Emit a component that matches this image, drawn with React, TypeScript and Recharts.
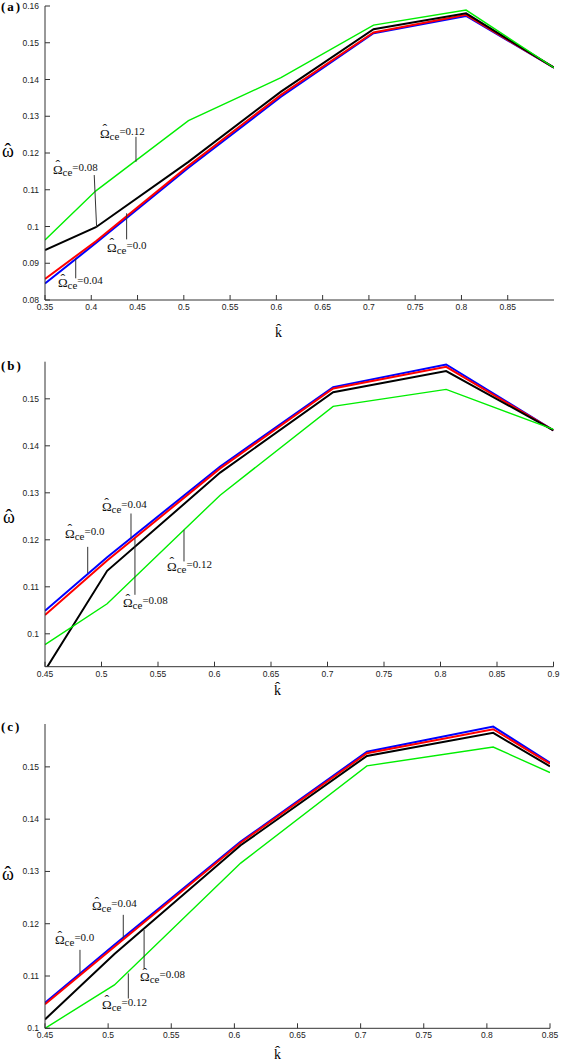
import { LineChart, Line, XAxis, YAxis, ReferenceLine, ReferenceDot } from 'recharts';

// panel (a)
const kA = [0.35, 0.405, 0.505, 0.605, 0.705, 0.805, 0.9];
const blueA = [0.0845, 0.0955, 0.116, 0.1353, 0.1526, 0.1573, 0.1432];
const redA = [0.0857, 0.096, 0.1165, 0.1358, 0.1528, 0.1576, 0.1432];
const blackA = [0.0936, 0.0998, 0.1176, 0.1367, 0.1537, 0.158, 0.1432];
const greenA = [0.0963, 0.1097, 0.1288, 0.1405, 0.1548, 0.1589, 0.1432];
const xTicksA = [0.35, 0.4, 0.45, 0.5, 0.55, 0.6, 0.65, 0.7, 0.75, 0.8, 0.85];
const yTicksA = [0.08, 0.09, 0.1, 0.11, 0.12, 0.13, 0.14, 0.15, 0.16];

// panel (b)
const kB = [0.45, 0.505, 0.605, 0.705, 0.805, 0.9];
const blueB = [0.1049, 0.1163, 0.1356, 0.1525, 0.1573, 0.1433];
const redB = [0.104, 0.1156, 0.1352, 0.1522, 0.1568, 0.1433];
const blackB = [0.0922, 0.1134, 0.1343, 0.1514, 0.1559, 0.1433];
const greenB = [0.0977, 0.1064, 0.1295, 0.1484, 0.152, 0.1435];
const xTicksB = [0.45, 0.5, 0.55, 0.6, 0.65, 0.7, 0.75, 0.8, 0.85, 0.9];
const yTicksB = [0.1, 0.11, 0.12, 0.13, 0.14, 0.15];

// panel (c)
const kC = [0.45, 0.505, 0.605, 0.705, 0.805, 0.85];
const blueC = [0.1049, 0.116, 0.1357, 0.1529, 0.1577, 0.1508];
const redC = [0.1046, 0.1156, 0.1355, 0.1526, 0.1572, 0.1506];
const blackC = [0.1017, 0.1142, 0.135, 0.1521, 0.1565, 0.1501];
const greenC = [0.1, 0.1083, 0.1316, 0.1502, 0.1538, 0.1489];
const xTicksC = [0.45, 0.5, 0.55, 0.6, 0.65, 0.7, 0.75, 0.8, 0.85];
const yTicksC = [0.1, 0.11, 0.12, 0.13, 0.14, 0.15];

// curve labels: text anchor (lx, ly) and leader line (x1,y1)-(x2,y2), data units
const notesA = [
  { text: '0.12', lx: 0.4094, ly: 0.1241, x1: 0.4483, y1: 0.1244, x2: 0.4483, y2: 0.1176 },
  { text: '0.08', lx: 0.3586, ly: 0.1143, x1: 0.4032, y1: 0.114, x2: 0.4058, y2: 0.0997 },
  { text: '0.0', lx: 0.417, ly: 0.0931, x1: 0.4382, y1: 0.1036, x2: 0.4382, y2: 0.0965 },
  { text: '0.04', lx: 0.364, ly: 0.0835, x1: 0.3832, y1: 0.0913, x2: 0.3832, y2: 0.0859 },
];
const notesB = [
  { text: '0.0', lx: 0.4677, ly: 0.1204, x1: 0.4878, y1: 0.1185, x2: 0.4878, y2: 0.1129 },
  { text: '0.04', lx: 0.5004, ly: 0.1261, x1: 0.5261, y1: 0.1256, x2: 0.5261, y2: 0.1203 },
  { text: '0.08', lx: 0.519, ly: 0.1057, x1: 0.5296, y1: 0.1203, x2: 0.5296, y2: 0.1083 },
  { text: '0.12', lx: 0.558, ly: 0.1134, x1: 0.573, y1: 0.1221, x2: 0.573, y2: 0.1154 },
];
const notesC = [
  { text: '0.0', lx: 0.4579, ly: 0.1161, x1: 0.4777, y1: 0.115, x2: 0.4777, y2: 0.1105 },
  { text: '0.04', lx: 0.4872, ly: 0.1226, x1: 0.512, y1: 0.1217, x2: 0.512, y2: 0.1172 },
  { text: '0.08', lx: 0.5253, ly: 0.109, x1: 0.5285, y1: 0.1188, x2: 0.5285, y2: 0.1115 },
  { text: '0.12', lx: 0.4952, ly: 0.1037, x1: 0.516, y1: 0.1105, x2: 0.516, y2: 0.1057 },
];

const SERIF = "'Liberation Serif', 'Times New Roman', serif";
const SANS = "'Liberation Sans', Arial, sans-serif";
const AXIS = '#333';
const HAT = '\u02C6';

type Note = { text: string; lx: number; ly: number; x1: number; y1: number; x2: number; y2: number };

// a letter with a circumflex tucked back over it, in one text element
const Hatted = ({ x, y, ch, size, back, lift }: { x: number; y: number; ch: string; size: number; back: number; lift: number }) => (
  <text x={x} y={y} fontFamily={SERIF} fill="#000" fontSize={size}>
    <tspan>{ch}</tspan>
    <tspan dx={-back} dy={-lift} fontSize={size * 1.1}>{HAT}</tspan>
  </text>
);

const NoteText = ({ cx, cy, text }: { cx: number; cy: number; text: string }) => (
  <text x={cx} y={cy} fontFamily={SERIF} fill="#111">
    <tspan fontSize={13}>{'\u03A9'}</tspan>
    <tspan fontSize={14} dx={-7.25} dy={-3.5}>{HAT}</tspan>
    <tspan fontSize={11} dx={2.55} dy={5.5}>ce</tspan>
    <tspan fontSize={11} dy={-5}>={text}</tspan>
  </text>
);

type PanelProps = {
  top: number;
  height: number;
  marginTop: number;
  marginRight: number;
  xAxisHeight: number;
  k: number[];
  blue: number[];
  red: number[];
  black: number[];
  green: number[];
  xDomain: [number, number];
  yDomain: [number, number];
  xTicks: number[];
  yTicks: number[];
  notes: Note[];
};

const Panel = (p: PanelProps) => {
  const data = p.k.map((k, i) => ({ k, blue: p.blue[i], red: p.red[i], black: p.black[i], green: p.green[i] }));
  const tickFont = { fontSize: 8.5, fill: '#222', fontFamily: SANS };
  return (
    <div style={{ position: 'absolute', left: 0, top: p.top }}>
      <LineChart
        width={561}
        height={p.height}
        data={data}
        margin={{ top: p.marginTop, right: p.marginRight, bottom: 0, left: 0 }}
      >
        <XAxis
          xAxisId="b"
          dataKey="k"
          type="number"
          domain={p.xDomain}
          ticks={p.xTicks}
          interval={0}
          allowDataOverflow
          height={p.xAxisHeight}
          tickSize={-5}
          tickMargin={9}
          tick={tickFont}
          stroke={AXIS}
        />
        <XAxis
          xAxisId="t"
          orientation="top"
          dataKey="k"
          type="number"
          domain={p.xDomain}
          ticks={p.xTicks}
          interval={0}
          allowDataOverflow
          height={0}
          tickSize={-5}
          tick={false}
          stroke={AXIS}
        />
        <YAxis
          yAxisId="l"
          type="number"
          domain={p.yDomain}
          ticks={p.yTicks}
          interval={0}
          allowDataOverflow
          width={45}
          tickSize={-5}
          tickMargin={11}
          tick={tickFont}
          stroke={AXIS}
        />
        <YAxis
          yAxisId="r"
          orientation="right"
          type="number"
          domain={p.yDomain}
          ticks={p.yTicks}
          interval={0}
          allowDataOverflow
          width={0}
          tickSize={-5}
          tick={false}
          stroke={AXIS}
        />
        <Line xAxisId="b" yAxisId="l" dataKey="blue" stroke="#0000ff" strokeWidth={2} dot={false} isAnimationActive={false} />
        <Line xAxisId="b" yAxisId="l" dataKey="red" stroke="#ff0000" strokeWidth={2} dot={false} isAnimationActive={false} />
        <Line xAxisId="b" yAxisId="l" dataKey="black" stroke="#000000" strokeWidth={2} dot={false} isAnimationActive={false} />
        <Line xAxisId="b" yAxisId="l" dataKey="green" stroke="#00ee00" strokeWidth={1.4} dot={false} isAnimationActive={false} />
        {p.notes.map((n) => (
          <ReferenceLine
            key={`l${n.text}`}
            xAxisId="b"
            yAxisId="l"
            segment={[{ x: n.x1, y: n.y1 }, { x: n.x2, y: n.y2 }]}
            stroke="#333"
            strokeWidth={1}
            ifOverflow="visible"
          />
        ))}
        {p.notes.map((n) => (
          <ReferenceDot
            key={`t${n.text}`}
            xAxisId="b"
            yAxisId="l"
            x={n.lx}
            y={n.ly}
            r={0}
            ifOverflow="visible"
            shape={(s: { cx: number; cy: number }) => <NoteText cx={s.cx} cy={s.cy} text={n.text} />}
          />
        ))}
      </LineChart>
    </div>
  );
};

export default function App() {
  return (
    <div style={{ position: 'absolute', left: 0, top: 0, width: 561, height: 1063, background: '#fff' }}>
      <Panel
        top={0}
        height={340}
        marginTop={6}
        marginRight={7}
        xAxisHeight={40}
        k={kA}
        blue={blueA}
        red={redA}
        black={blackA}
        green={greenA}
        xDomain={[0.35, 0.9]}
        yDomain={[0.08, 0.16]}
        xTicks={xTicksA}
        yTicks={yTicksA}
        notes={notesA}
      />
      <Panel
        top={340}
        height={360}
        marginTop={21.7}
        marginRight={7.5}
        xAxisHeight={33.3}
        k={kB}
        blue={blueB}
        red={redB}
        black={blackB}
        green={greenB}
        xDomain={[0.45, 0.9]}
        yDomain={[0.093, 0.1579]}
        xTicks={xTicksB}
        yTicks={yTicksB}
        notes={notesB}
      />
      <Panel
        top={700}
        height={363}
        marginTop={24}
        marginRight={11}
        xAxisHeight={34.7}
        k={kC}
        blue={blueC}
        red={redC}
        black={blackC}
        green={greenC}
        xDomain={[0.45, 0.85]}
        yDomain={[0.1, 0.1582]}
        xTicks={xTicksC}
        yTicks={yTicksC}
        notes={notesC}
      />
      <svg width={561} height={1063} style={{ position: 'absolute', left: 0, top: 0, pointerEvents: 'none' }}>
        <g fontFamily={SERIF} fill="#000" fontSize={13} fontWeight="bold" letterSpacing={2}>
          <text x={1} y={10.5}>(a)</text>
          <text x={1} y={370}>(b)</text>
          <text x={1} y={731}>(c)</text>
        </g>
        <Hatted x={2} y={157} ch={'\u03C9'} size={18} back={9.45} lift={1} />
        <Hatted x={3} y={523} ch={'\u03C9'} size={18} back={9.45} lift={1} />
        <Hatted x={2} y={880} ch={'\u03C9'} size={18} back={9.45} lift={1} />
        <Hatted x={275} y={337} ch="k" size={14} back={6.05} lift={3} />
        <Hatted x={274} y={695} ch="k" size={14} back={6.05} lift={3} />
        <Hatted x={274} y={1059} ch="k" size={14} back={6.05} lift={3} />
      </svg>
    </div>
  );
}
